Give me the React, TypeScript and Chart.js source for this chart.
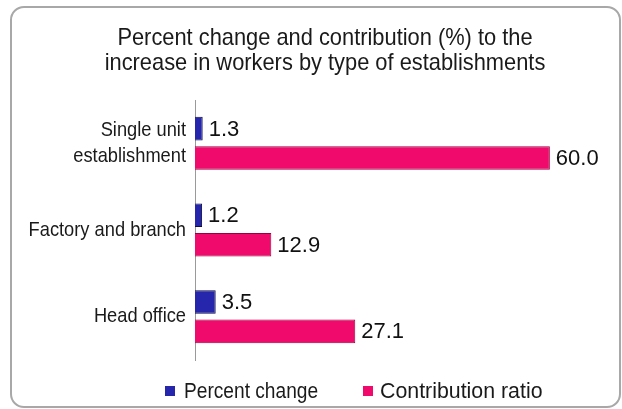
import React, { useEffect, useRef } from "react";
import { Chart, registerables } from "chart.js";

Chart.register(...registerables);

const categories: string[][] = [
  ["Single unit", "establishment"],
  ["Factory and branch"],
  ["Head office"],
];
const percentChange = [1.3, 1.2, 3.5];
const contributionRatio = [60.0, 12.9, 27.1];
const seriesNames = ["Percent change", "Contribution ratio"];
const titleLines = [
  "Percent change and contribution (%) to the",
  "increase in workers by type of establishments",
];

const FONT = "'Liberation Sans', Arial, sans-serif";
const BLUE = "#2626ac";
const PINK = "#f00a6c";
const TEXT = "#1a1a1a";

// value labels at the end of each bar
const valueLabels = {
  id: "valueLabels",
  afterDatasetsDraw(chart: any) {
    const ctx = chart.ctx;
    ctx.save();
    ctx.font = "22px " + FONT;
    ctx.fillStyle = "#111";
    ctx.textAlign = "left";
    ctx.textBaseline = "middle";
    chart.data.datasets.forEach((ds: any, di: number) => {
      const meta = chart.getDatasetMeta(di);
      meta.data.forEach((bar: any, i: number) => {
        ctx.fillText(Number(ds.data[i]).toFixed(1), bar.x + 6, bar.y + 1);
      });
    });
    ctx.restore();
  },
};

// condensed category labels placed at the y scale's tick positions
const condensedTicks = {
  id: "condensedTicks",
  afterDraw(chart: any) {
    const ctx = chart.ctx;
    const scale = chart.scales.y;
    const sx = 0.87;
    const lh = 26;
    ctx.save();
    ctx.font = "21px " + FONT;
    ctx.fillStyle = TEXT;
    ctx.textAlign = "right";
    ctx.textBaseline = "middle";
    ctx.scale(sx, 1);
    const right = scale.right - 9;
    (chart.data.labels as string[][]).forEach((lines, i) => {
      const yc = scale.getPixelForTick(i);
      const y0 = yc - ((lines.length - 1) * lh) / 2;
      lines.forEach((line, j) => {
        ctx.fillText(line, right / sx, y0 + j * lh);
      });
    });
    ctx.restore();
  },
};

export default function App() {
  const ref = useRef<HTMLCanvasElement>(null);
  useEffect(() => {
    if (!ref.current) return;
    const chart = new Chart(ref.current, {
      type: "bar",
      data: {
        labels: categories,
        datasets: [
          {
            label: seriesNames[0],
            data: percentChange,
            backgroundColor: BLUE,
            borderColor: "#0c0c40",
            borderWidth: 1,
            barPercentage: 0.8,
            categoryPercentage: 0.68,
          },
          {
            label: seriesNames[1],
            data: contributionRatio,
            backgroundColor: PINK,
            borderColor: "#9a0040",
            borderWidth: 1,
            barPercentage: 0.8,
            categoryPercentage: 0.68,
          },
        ],
      },
      options: {
        indexAxis: "y",
        animation: false,
        responsive: false,
        maintainAspectRatio: false,
        layout: { padding: { top: 100, right: 13, bottom: 49, left: 0 } },
        plugins: {
          legend: { display: false },
          tooltip: { enabled: false },
          title: { display: false },
        },
        scales: {
          x: { display: false, min: 0, max: 70 },
          y: {
            grid: { display: false },
            border: { display: true, color: "#9a9a9a", width: 1 },
            ticks: { display: false },
            afterFit(scale: any) {
              scale.width = 195;
            },
          },
        },
      },
      plugins: [valueLabels, condensedTicks],
    });
    return () => chart.destroy();
  }, []);

  const legendText = (left: number, sx: number): React.CSSProperties => ({
    position: "absolute",
    left,
    top: 378,
    fontFamily: FONT,
    fontSize: 22,
    lineHeight: "26px",
    color: TEXT,
    whiteSpace: "nowrap",
    transform: `scaleX(${sx})`,
    transformOrigin: "left center",
  });
  const box = (left: number, color: string): React.CSSProperties => ({
    position: "absolute",
    left,
    top: 386,
    width: 10,
    height: 10,
    background: color,
  });
  const titleLine = (top: number): React.CSSProperties => ({
    position: "absolute",
    left: 25,
    top,
    width: 600,
    textAlign: "center",
    fontFamily: FONT,
    fontSize: 24,
    lineHeight: "25px",
    color: TEXT,
    whiteSpace: "nowrap",
    transform: "scaleX(0.91)",
    transformOrigin: "center center",
  });

  return (
    <div style={{ position: "fixed", left: 0, top: 0, width: 622, height: 409, background: "#fff", overflow: "hidden" }}>
      <div
        style={{
          position: "absolute",
          left: 10,
          top: 6,
          width: 607,
          height: 398,
          border: "2px solid #a8a8a8",
          borderRadius: 14,
        }}
      />
      <canvas ref={ref} width={622} height={409} style={{ position: "absolute", left: 0, top: 0 }} />
      <div style={titleLine(24)}>{titleLines[0]}</div>
      <div style={titleLine(49)}>{titleLines[1]}</div>
      <div style={box(165, BLUE)} />
      <div style={legendText(184, 0.87)}>{seriesNames[0]}</div>
      <div style={box(363, PINK)} />
      <div style={legendText(380, 0.97)}>{seriesNames[1]}</div>
    </div>
  );
}
